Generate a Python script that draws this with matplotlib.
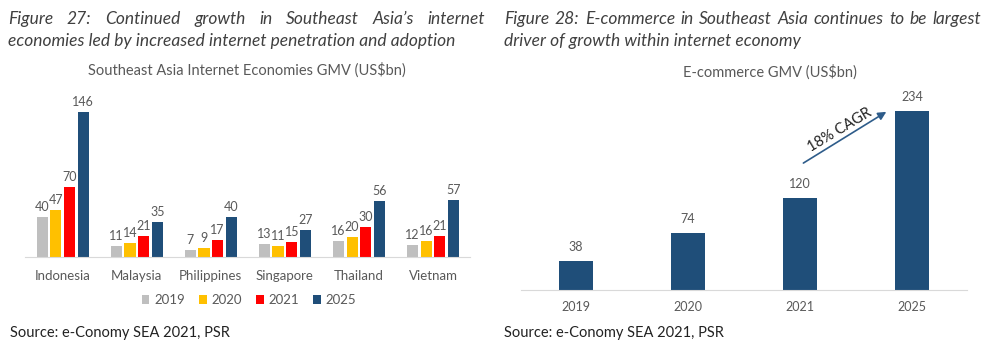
import matplotlib
matplotlib.use("Agg")
import matplotlib.pyplot as plt
import numpy as np

plt.rcParams['font.family'] = ['Lato', 'DejaVu Sans']

# left chart data
countries = ['Indonesia', 'Malaysia', 'Philippines', 'Singapore', 'Thailand', 'Vietnam']
years = ['2019', '2020', '2021', '2025']
gmv_2019 = [40, 11, 7, 13, 16, 12]
gmv_2020 = [47, 14, 9, 11, 20, 16]
gmv_2021 = [70, 21, 17, 15, 30, 21]
gmv_2025 = [146, 35, 40, 27, 56, 57]
year_colors = ['#BFBFBF', '#FFC000', '#FF0000', '#1F4E79']

# right chart data
ec_years = ['2019', '2020', '2021', '2025']
ec_gmv = [38, 74, 120, 234]

label_col = '#595959'
title_col = '#404040'

fig = plt.figure(figsize=(9.88, 3.53), dpi=100)


def justify(words, x0, x1, y, **kw):
    # place words so the line fills x0..x1 (figure fraction)
    r = fig.canvas.get_renderer()
    ts = [fig.text(0, y, w, **kw) for w in words]
    widths = [t.get_window_extent(r).width / fig.bbox.width for t in ts]
    gap = (x1 - x0 - sum(widths)) / (len(words) - 1)
    x = x0
    for t, w in zip(ts, widths):
        t.set_x(x)
        x += w + gap


tkw = dict(fontsize=12.5, style='italic', color=title_col, va='baseline')
justify("Figure 27: Continued growth in Southeast Asia\u2019s internet".split(),
        8 / 988, 485 / 988, 1 - 24 / 353, **tkw)
fig.text(8 / 988, 1 - 46 / 353, "economies led by increased internet penetration and adoption", **tkw)
justify("Figure 28: E-commerce in Southeast Asia continues to be largest".split(),
        504 / 988, 981 / 988, 1 - 24 / 353, **tkw)
fig.text(504 / 988, 1 - 46 / 353, "driver of growth within internet economy", **tkw)

# left chart
ax1 = fig.add_axes([25 / 988, 1 - 257 / 353, 445 / 988, (257 - 95) / 353])
x = np.arange(len(countries))
step = 0.185
bw = 0.15
series = [gmv_2019, gmv_2020, gmv_2021, gmv_2025]
for i, (vals, yr, c) in enumerate(zip(series, years, year_colors)):
    pos = x + (i - 1.5) * step
    bars = ax1.bar(pos, vals, width=bw, color=c, label=yr)
    for b, v in zip(bars, vals):
        ax1.annotate(str(v), (b.get_x() + b.get_width() / 2, v), xytext=(0, 3),
                     textcoords='offset points', ha='center', va='bottom',
                     fontsize=9, color=label_col)
ax1.set_xlim(-0.51, 5.5)
ax1.set_ylim(0, 163)
ax1.set_xticks(x)
ax1.set_xticklabels(countries, fontsize=9.5, color=label_col)
ax1.tick_params(axis='x', length=0, pad=9)
ax1.set_yticks([])
for s in ['top', 'right', 'left']:
    ax1.spines[s].set_visible(False)
ax1.spines['bottom'].set_color('#D9D9D9')
fig.text(247 / 988, 1 - 70 / 353, "Southeast Asia Internet Economies GMV (US$bn)",
         ha='center', va='center', fontsize=10.5, color=label_col)
fig.legend(loc='center', bbox_to_anchor=(249 / 988, 1 - 300 / 353), ncol=4,
           frameon=False, fontsize=9.5, handlelength=0.6, handleheight=0.6,
           handletextpad=0.4, columnspacing=1.0, labelcolor=label_col)

# right chart
ax2 = fig.add_axes([521 / 988, 1 - 290 / 353, 446 / 988, (290 - 95) / 353])
xr = np.arange(len(ec_years))
bars = ax2.bar(xr, ec_gmv, width=0.31, color='#1F4E79')
for b, v in zip(bars, ec_gmv):
    ax2.annotate(str(v), (b.get_x() + b.get_width() / 2, v), xytext=(0, 6),
                 textcoords='offset points', ha='center', va='bottom',
                 fontsize=9, color=label_col)
ax2.set_xlim(-0.49, 3.49)
ax2.set_ylim(0, 255)
ax2.set_xticks(xr)
ax2.set_xticklabels(ec_years, fontsize=9, color=label_col)
ax2.tick_params(axis='x', length=0, pad=8)
ax2.set_yticks([])
for s in ['top', 'right', 'left']:
    ax2.spines[s].set_visible(False)
ax2.spines['bottom'].set_color('#D9D9D9')
ax2.annotate('', xy=(2.77, 233), xytext=(2.03, 166),
             arrowprops=dict(arrowstyle='-|>', color='#2E5C8A', lw=1.2,
                             mutation_scale=12, shrinkA=0, shrinkB=0))
ax2.text(2.35, 209, '18% CAGR', rotation=31, ha='center', va='center',
         fontsize=10.5, color='#222222', rotation_mode='anchor')
fig.text(770 / 988, 1 - 72 / 353, "E-commerce GMV (US$bn)",
         ha='center', va='center', fontsize=10.5, color=label_col)

fig.text(10 / 988, 1 - 333 / 353, "Source: e-Conomy SEA 2021, PSR",
         ha='left', va='center', fontsize=10.5, color='#222222')
fig.text(504 / 988, 1 - 333 / 353, "Source: e-Conomy SEA 2021, PSR",
         ha='left', va='center', fontsize=10.5, color='#222222')

fig.savefig('out.png', dpi=100)
